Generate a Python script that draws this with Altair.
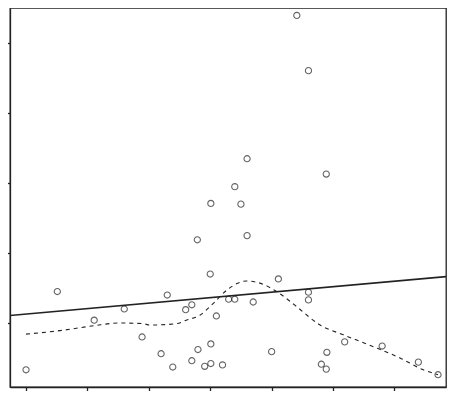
import altair as alt
import pandas as pd

# scatter points (x, y)
px = [1.00, 1.51, 2.11, 2.60, 2.89, 3.20, 3.30, 3.39, 3.60, 3.70, 3.70, 3.80, 3.79, 3.91,
      4.01, 4.01, 4.00, 4.01, 4.10, 4.20, 4.30, 4.40, 4.40, 4.50, 4.60, 4.60, 4.70, 5.00,
      5.11, 5.41, 5.60, 5.60, 5.60, 5.89, 5.90, 5.81, 5.89, 6.19, 6.80, 7.39, 7.71]
py = [0.33, 1.45, 1.04, 1.20, 0.80, 0.56, 1.40, 0.37, 1.19, 1.26, 0.46, 0.62, 2.19, 0.38,
      0.42, 0.70, 1.70, 2.71, 1.10, 0.40, 1.34, 1.34, 2.95, 2.70, 3.35, 2.25, 1.30, 0.59,
      1.63, 5.40, 4.61, 1.44, 1.33, 3.13, 0.58, 0.41, 0.34, 0.73, 0.67, 0.44, 0.26]

# smooth (dashed) curve
sx = [1.00, 1.55, 2.10, 2.53, 2.91, 3.02, 3.45, 3.61, 3.83, 4.05, 4.27, 4.59, 4.81,
      5.08, 5.30, 5.44, 5.79, 6.17, 6.66, 7.09, 7.47, 7.71]
sy = [0.84, 0.89, 0.96, 1.00, 0.99, 0.97, 0.99, 1.04, 1.11, 1.28, 1.47, 1.60, 1.57,
      1.45, 1.31, 1.21, 0.97, 0.83, 0.66, 0.50, 0.33, 0.26]

# fitted straight line
intercept = 1.049
slope = 0.0783

x_domain = [0.739, 7.840]
y_domain = [0.084, 5.506]
x_ticks = [1, 2, 3, 4, 5, 6, 7]
y_ticks = [1, 2, 3, 4, 5]

pts = pd.DataFrame({"x": px, "y": py})
smooth = pd.DataFrame({"x": sx, "y": sy})
fit = pd.DataFrame({"x": x_domain})
fit["y"] = intercept + slope * fit["x"]

xs = alt.Scale(domain=x_domain, nice=False, zero=False)
ys = alt.Scale(domain=y_domain, nice=False, zero=False)

ink = "#222222"

xenc = alt.X("x:Q", scale=xs, axis=alt.Axis(values=x_ticks, labels=False, title=None, grid=False,
                                            tickSize=4, tickColor=ink, domainColor=ink,
                                            tickWidth=1.3, domainWidth=1.3))
yenc = alt.Y("y:Q", scale=ys, axis=alt.Axis(values=y_ticks, labels=False, title=None, grid=False,
                                            tickSize=10, tickColor=ink, domainColor=ink,
                                            tickWidth=1.3, domainWidth=1.3))

points = alt.Chart(pts).mark_point(shape="circle", filled=False, color=ink, size=38,
                                   strokeWidth=1.1).encode(x=xenc, y=yenc)
line = alt.Chart(fit).mark_line(color=ink, strokeWidth=1.6, clip=True).encode(x="x:Q", y="y:Q")
curve = alt.Chart(smooth).mark_line(color=ink, strokeWidth=1.1, strokeDash=[4, 4],
                                    interpolate="monotone").encode(x="x:Q", y="y:Q")

chart = alt.layer(points, line, curve).properties(
    width=436, height=379,
    autosize=alt.AutoSizeParams(type="none"),
    padding={"left": 2, "top": 0, "right": 1, "bottom": 4},
).configure_view(stroke=ink, strokeWidth=1.3)

chart.save("out.html", embed_options={"renderer": "svg", "actions": False})
